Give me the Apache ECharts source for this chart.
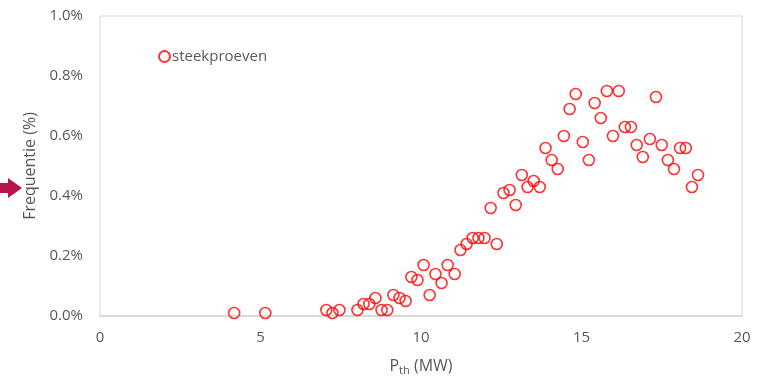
<!DOCTYPE html>
<html>
<head>
<meta charset="utf-8">
<script src="https://cdn.jsdelivr.net/npm/echarts@6/dist/echarts.min.js"></script>
<style>
  html, body { margin: 0; padding: 0; background: #fff; }
  #chart { width: 772px; height: 378px; }
</style>
</head>
<body>
<div id="chart"></div>
<script>
// vermogen (MW) en frequentie (%) per steekproef
var pth = [4.18, 5.15, 7.05, 7.24, 7.46, 8.02, 8.21, 8.39, 8.58, 8.77, 8.95, 9.14, 9.33, 9.52,
  9.70, 9.89, 10.08, 10.27, 10.45, 10.64, 10.83, 11.05, 11.23, 11.42, 11.61, 11.79, 11.98,
  12.17, 12.36, 12.57, 12.76, 12.95, 13.14, 13.32, 13.51, 13.70, 13.88, 14.07, 14.26, 14.45,
  14.63, 14.82, 15.04, 15.23, 15.41, 15.60, 15.79, 15.98, 16.16, 16.35, 16.54, 16.72, 16.91,
  17.13, 17.32, 17.50, 17.69, 17.88, 18.07, 18.25, 18.44, 18.63];
var freq = [0.01, 0.01, 0.02, 0.01, 0.02, 0.02, 0.04, 0.04, 0.06, 0.02, 0.02, 0.07, 0.06, 0.05,
  0.13, 0.12, 0.17, 0.07, 0.14, 0.11, 0.17, 0.14, 0.22, 0.24, 0.26, 0.26, 0.26,
  0.36, 0.24, 0.41, 0.42, 0.37, 0.47, 0.43, 0.45, 0.43, 0.56, 0.52, 0.49, 0.60,
  0.69, 0.74, 0.58, 0.52, 0.71, 0.66, 0.75, 0.60, 0.75, 0.63, 0.63, 0.57, 0.53,
  0.59, 0.73, 0.57, 0.52, 0.49, 0.56, 0.56, 0.43, 0.47];
var seriesName = 'steekproeven';

var points = pth.map(function (x, i) { return [x, freq[i]]; });
var textColor = '#595959';
var fontFam = '"Open Sans", sans-serif';

var myChart = echarts.init(document.getElementById('chart'));
myChart.setOption({
  animation: false,
  textStyle: { fontFamily: fontFam },
  grid: {
    left: 100, right: 30, top: 16, bottom: 62,
    outerBoundsMode: 'none', containLabel: false,
    show: true, borderColor: '#d9d9d9', borderWidth: 1
  },
  legend: {
    left: 153, top: 44,
    itemWidth: 11, itemHeight: 11, itemGap: 4,
    textStyle: { color: textColor, fontSize: 15, fontFamily: fontFam, padding: [0, 0, 0, -3] },
    data: [seriesName]
  },
  xAxis: {
    type: 'value', min: 0, max: 20, interval: 5,
    axisLine: { show: true, lineStyle: { color: '#d9d9d9', width: 2 } },
    axisTick: { show: false },
    splitLine: { show: false },
    axisLabel: { color: textColor, fontSize: 15, margin: 14 },
    name: '{n|P}{s|th}{n| (MW)}',
    nameLocation: 'middle', nameGap: 40,
    nameTextStyle: {
      rich: {
        n: { color: textColor, fontSize: 16, fontFamily: fontFam },
        s: { color: textColor, fontSize: 11, fontFamily: fontFam, verticalAlign: 'bottom', padding: [9, 0, 0, 0] }
      }
    }
  },
  yAxis: {
    type: 'value', min: 0, max: 1, interval: 0.2,
    axisLine: { show: false },
    axisTick: { show: false },
    splitLine: { show: false },
    axisLabel: {
      color: textColor, fontSize: 15, margin: 17,
      formatter: function (v) { return v.toFixed(1) + '%'; }
    },
    name: 'Frequentie (%)',
    nameLocation: 'middle', nameGap: 56,
    nameTextStyle: { color: textColor, fontSize: 16 }
  },
  graphic: [{
    type: 'polygon',
    shape: { points: [[0, 183], [8, 183], [8, 178], [22, 188], [8, 198], [8, 193], [0, 193]] },
    style: { fill: '#b8164a' }
  }],
  series: [{
    name: seriesName,
    type: 'scatter',
    symbol: 'circle',
    symbolSize: 11,
    itemStyle: { color: 'rgba(0,0,0,0)', borderColor: '#ff0000', borderWidth: 1.6 },
    data: points
  }]
});
</script>
</body>
</html>
